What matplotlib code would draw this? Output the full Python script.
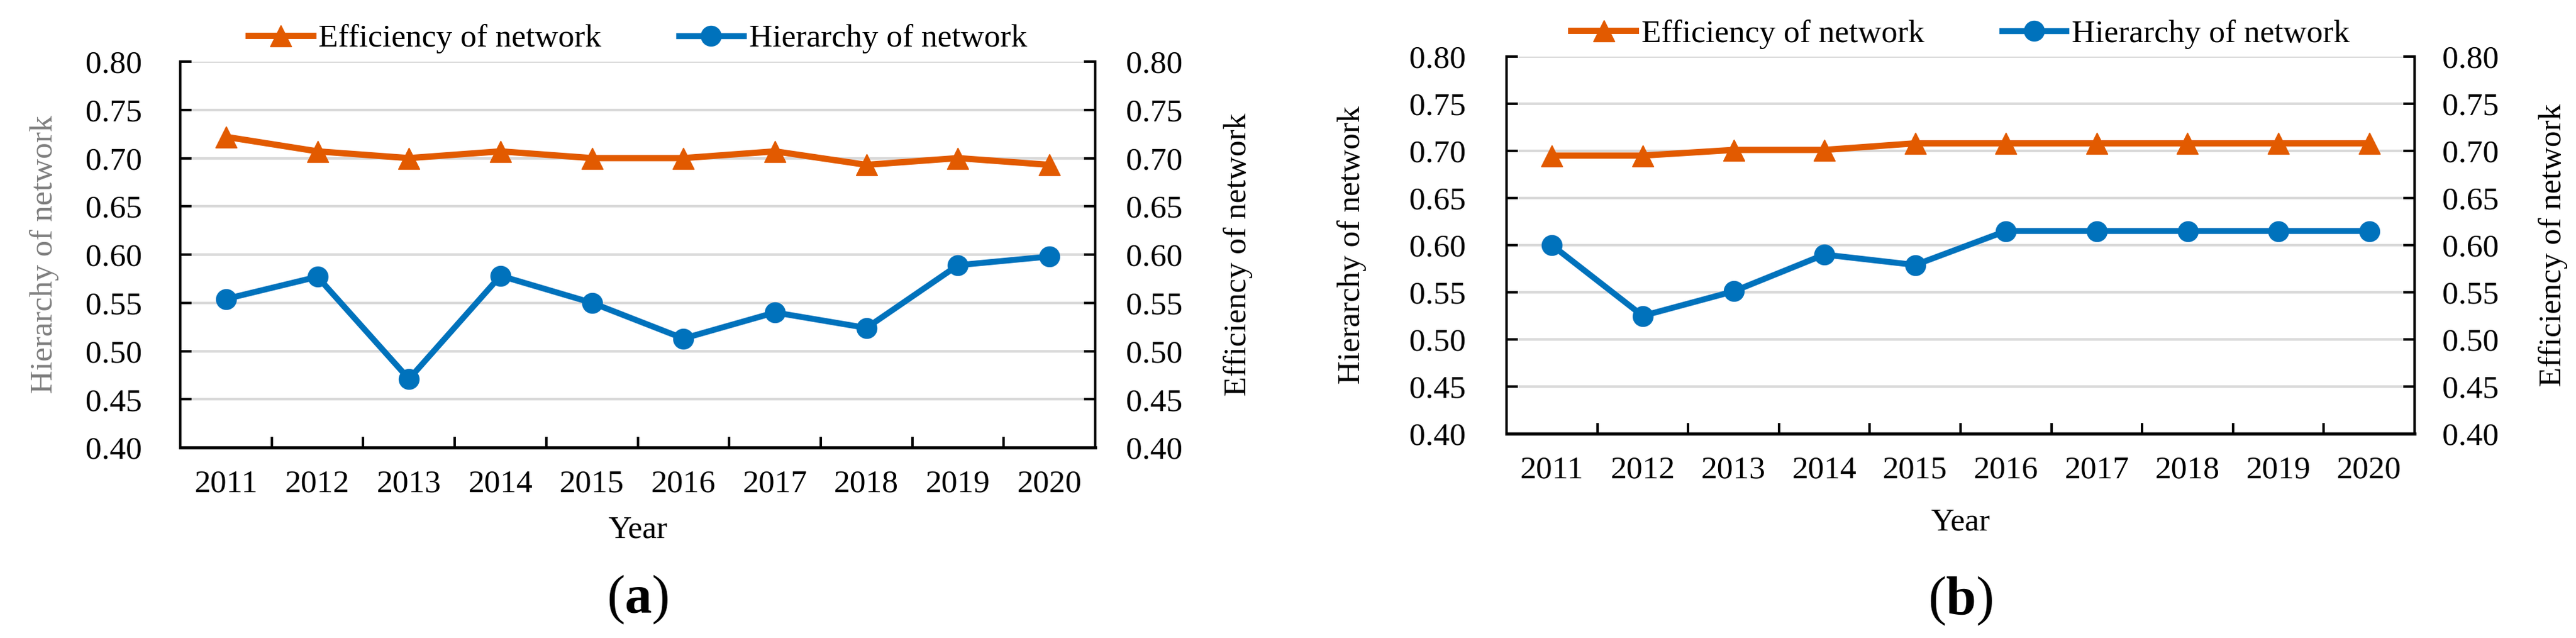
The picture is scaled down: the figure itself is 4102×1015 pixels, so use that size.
import numpy as np
import matplotlib
matplotlib.use("Agg")
import matplotlib.pyplot as plt
from matplotlib.lines import Line2D

plt.rcParams['font.family'] = ['Liberation Serif', 'DejaVu Serif']
plt.rcParams['mathtext.fontset'] = 'custom'
plt.rcParams['mathtext.rm'] = 'Liberation Serif'
plt.rcParams['mathtext.bf'] = 'Liberation Serif:bold'

years = [2011, 2012, 2013, 2014, 2015, 2016, 2017, 2018, 2019, 2020]
yticks = [0.40, 0.45, 0.50, 0.55, 0.60, 0.65, 0.70, 0.75, 0.80]

# panel (a)
hier_a = [0.554, 0.577, 0.471, 0.578, 0.550, 0.513, 0.540, 0.524, 0.589, 0.598]
eff_a = [0.722, 0.707, 0.700, 0.707, 0.700, 0.700, 0.707, 0.693, 0.700, 0.693]
# panel (b)
hier_b = [0.600, 0.525, 0.551, 0.590, 0.579, 0.615, 0.615, 0.615, 0.615, 0.615]
eff_b = [0.695, 0.695, 0.701, 0.701, 0.708, 0.708, 0.708, 0.708, 0.708, 0.708]

ORANGE = "#E25A00"
BLUE = "#0072BC"
GRID = "#D9D9D9"
FS = 37

W, H = 4102, 1015
fig = plt.figure(figsize=(W / 100, H / 100), dpi=100)


def fx(px):
    return px / W


def fy(py):
    return 1 - py / H


def panel(x0, x1, y0, y1, hier, eff, lpad, rpad, lab_l, lab_r, lab_col,
          year_base, tag, tag_base, leg_y):
    ax = fig.add_axes([fx(x0), fy(y1), fx(x1 - x0), (y1 - y0) / H])
    x = np.arange(len(years))
    ax.set_xlim(-0.5, len(years) - 0.5)
    ax.set_ylim(0.4, 0.8)
    ax.set_yticks(yticks)
    ax.set_yticklabels([f"{v:.2f}" for v in yticks])
    ax.set_xticks(x)
    ax.set_xticklabels([str(y) for y in years])
    # tick marks sit between the categories, like in the original
    ax.set_xticks(np.arange(0.5, len(years) - 1, 1.0), minor=True)
    ax.grid(axis="y", color=GRID, linewidth=2.9, zorder=0)
    ax.set_axisbelow(True)
    ax.tick_params(axis="x", which="major", length=0, pad=25, labelsize=FS)
    ax.tick_params(axis="x", which="minor", direction="in", length=12,
                   width=2.8, color="black")
    ax.tick_params(axis="y", direction="in", length=13, width=2.8,
                   pad=lpad, labelsize=FS)
    ax.spines["top"].set_visible(False)
    ax.spines["left"].set_linewidth(2.8)
    ax.spines["bottom"].set_linewidth(3.6)

    ax2 = ax.twinx()
    ax2.set_ylim(0.4, 0.8)
    ax2.set_yticks(yticks)
    ax2.set_yticklabels([f"{v:.2f}" for v in yticks])
    ax2.tick_params(axis="y", direction="in", length=13, width=2.8,
                    pad=rpad, labelsize=FS)
    for s in ["top", "left", "bottom"]:
        ax2.spines[s].set_visible(False)
    ax2.spines["right"].set_linewidth(2.8)

    ax.plot(x, hier, color=BLUE, lw=6.8, marker="o", ms=23, zorder=3,
            clip_on=False)
    ax2.plot(x, eff, color=ORANGE, lw=7.2, marker="^", ms=24, zorder=3,
             clip_on=False)

    yc = (y0 + y1) / 2
    fig.text(fx(lab_l), fy(yc), "Hierarchy of network", rotation=90,
             rotation_mode="anchor", ha="center", va="baseline",
             fontsize=FS, color=lab_col)
    fig.text(fx(lab_r), fy(yc), "Efficiency of network", rotation=90,
             rotation_mode="anchor", ha="center", va="baseline",
             fontsize=FS, color="black")
    xc = (x0 + x1) / 2
    fig.text(fx(xc), fy(year_base), "Year", ha="center", va="baseline",
             fontsize=FS)
    fig.text(fx(xc), fy(tag_base), "(" + r"$\mathbf{" + tag + "}$" + ")",
             ha="center", va="baseline", fontsize=62)

    handles = [
        Line2D([], [], color=ORANGE, lw=7.2, marker="^", ms=24),
        Line2D([], [], color=BLUE, lw=6.8, marker="o", ms=23),
    ]
    fig.legend(handles, ["Efficiency of network", "Hierarchy of network"],
               loc="center", bbox_to_anchor=(fx(xc), fy(leg_y)),
               bbox_transform=fig.transFigure, ncol=2, frameon=False,
               fontsize=FS, handlelength=2.0, handletextpad=0.17,
               columnspacing=2.4)
    return ax


panel(287, 1744, 98, 712, hier_a, eff_a, 44, 35, 83, 1984, "#7F7F7F",
      855, "a", 975, 62)
panel(2399, 3845, 90, 690, hier_b, eff_b, 47, 32, 2165, 4078, "black",
      843, "b", 977, 55)

fig.savefig("out.png", dpi=100)
